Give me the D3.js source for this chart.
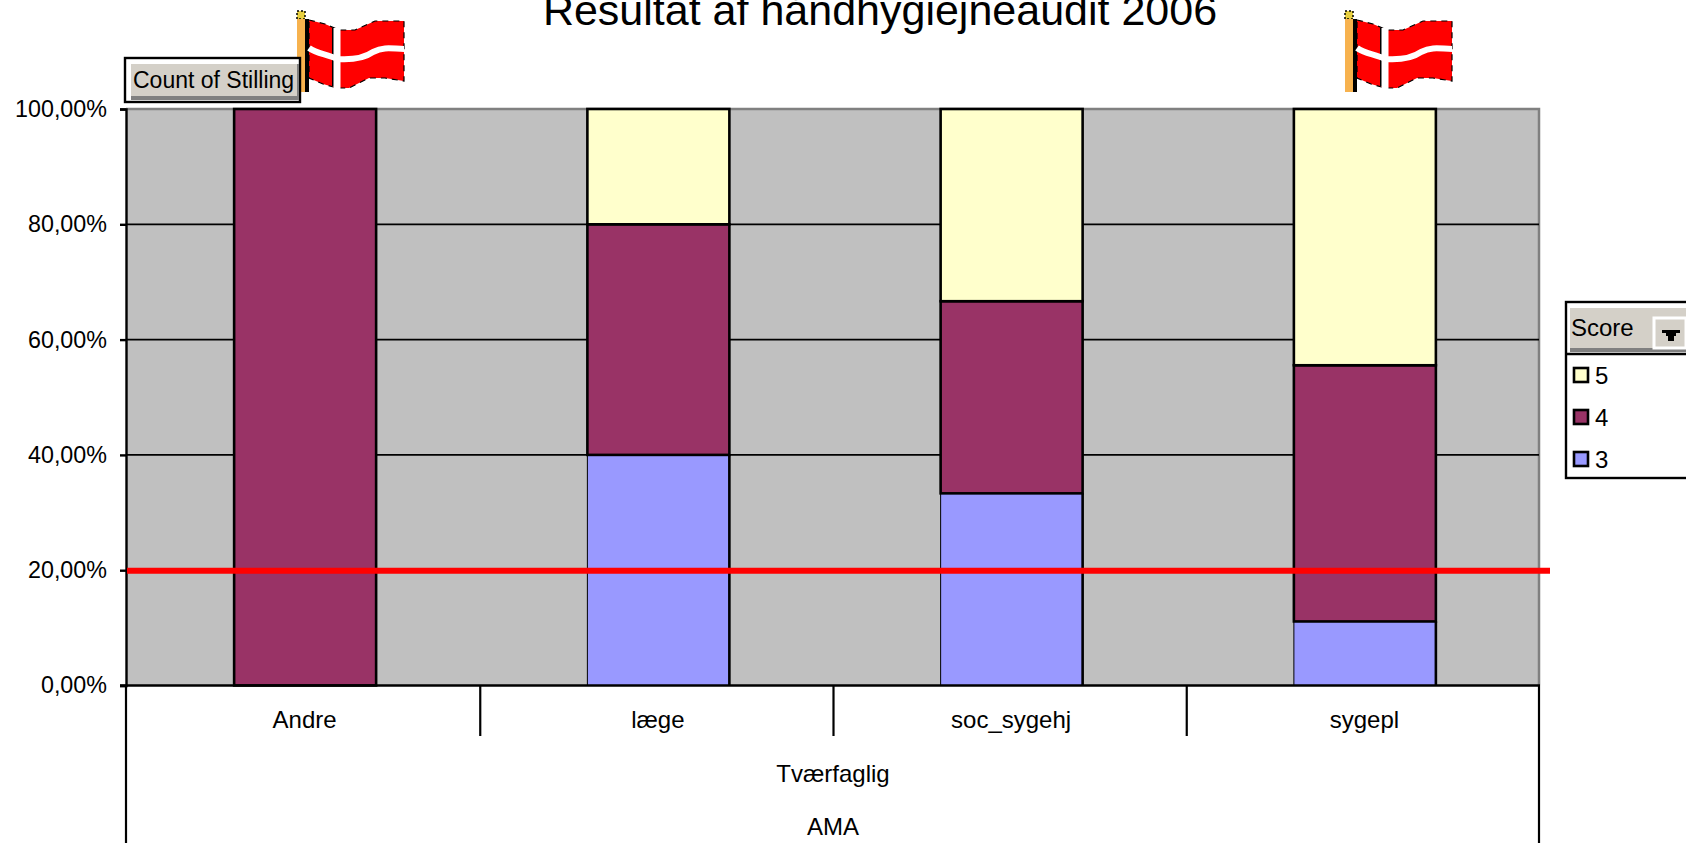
<!DOCTYPE html>
<html><head><meta charset="utf-8">
<script src="https://cdn.jsdelivr.net/npm/d3@7/dist/d3.min.js"></script>
<style>html,body{margin:0;padding:0;background:#fff;overflow:hidden}svg{display:block}text{font-family:"Liberation Sans",Arial,sans-serif;fill:#000}</style>
</head><body><svg id="c" width="1686" height="843"></svg>
<script>
const categories = ["Andre","læge","soc_sygehj","sygepl"];
const seriesKeys = ["3","4","5"];
const score3 = [0, 40, 33.33, 11.11];
const score4 = [100, 40, 33.33, 44.44];
const score5 = [0, 20, 33.34, 44.45];
const yTicks = [0,20,40,60,80,100];
const targetLine = 20;
const legendOrder = ["5","4","3"];
const colors = {"3":"#9999ff","4":"#993366","5":"#ffffcc"};
const values = {"3":score3,"4":score4,"5":score5};

const svg = d3.select("#c");
const L=126,R=1539,T=109,B=685.5;
const x = d3.scaleBand().domain(categories).range([127,1540]);
const barW = 142;
const y = d3.scaleLinear().domain([0,100]).range([B,T]);

svg.append("rect").attr("x",L).attr("y",T).attr("width",R-L).attr("height",B-T).attr("fill","#c0c0c0");
svg.append("path").attr("d",`M${L},${T}H${R}V${B}`).attr("fill","none").attr("stroke","#808080").attr("stroke-width",2.5);

svg.append("g").selectAll("line").data(yTicks.filter(d=>d>0&&d<100)).join("line")
 .attr("x1",L).attr("x2",R).attr("y1",d=>y(d)).attr("y2",d=>y(d)).attr("stroke","#000").attr("stroke-width",1.7);

const stack = d3.stack().keys(seriesKeys).value((d,k)=>values[k][categories.indexOf(d)])(categories);
stack.forEach(s=>{
  svg.append("g").selectAll("rect").data(s.filter(d=>d[1]-d[0]>0)).join("rect")
   .attr("x",d=>x(d.data)+x.bandwidth()/2-barW/2+1.5).attr("width",barW)
   .attr("y",d=>y(d[1])).attr("height",d=>y(d[0])-y(d[1]))
   .attr("fill",colors[s.key]).attr("stroke","#000").attr("stroke-width",s.key==="3"?1:2.6);
});
svg.append("g").selectAll("line").data(categories.filter((c,i)=>score3[i]>0)).join("line")
 .attr("x1",d=>x(d)+x.bandwidth()/2+barW/2+1.5).attr("x2",d=>x(d)+x.bandwidth()/2+barW/2+1.5)
 .attr("y1",d=>y(score3[categories.indexOf(d)])).attr("y2",B).attr("stroke","#000").attr("stroke-width",2.6);

// left axis
const yAxis = d3.axisLeft(y).tickValues(yTicks).tickSize(6).tickPadding(13)
  .tickFormat(d=>d3.format(".2f")(d).replace(".",",")+"%");
const gy = svg.append("g").attr("transform",`translate(${L},0)`).call(yAxis);
gy.selectAll("text").style("font-size","23.3px");
gy.selectAll("path,line").attr("stroke","#000").attr("stroke-width",2.4);

// lower multi-level axis
svg.append("line").attr("x1",L-6).attr("x2",R+1).attr("y1",B).attr("y2",B).attr("stroke","#000").attr("stroke-width",2.6);
svg.append("line").attr("x1",L).attr("x2",L).attr("y1",B).attr("y2",843).attr("stroke","#000").attr("stroke-width",2.2);
svg.append("line").attr("x1",R).attr("x2",R).attr("y1",B).attr("y2",843).attr("stroke","#000").attr("stroke-width",2.2);
svg.append("g").selectAll("line").data(categories.slice(1)).join("line")
 .attr("x1",d=>x(d)).attr("x2",d=>x(d)).attr("y1",B).attr("y2",736).attr("stroke","#000").attr("stroke-width",2.2);
svg.append("g").selectAll("text").data(categories).join("text")
 .attr("x",d=>x(d)+x.bandwidth()/2+1).attr("y",728).attr("text-anchor","middle").style("font-size","24px").text(d=>d);
svg.append("text").attr("x",833).attr("y",782).attr("text-anchor","middle").style("font-size","24px").text("Tværfaglig");
svg.append("text").attr("x",833).attr("y",835).attr("text-anchor","middle").style("font-size","24px").text("AMA");

// target line
svg.append("line").attr("x1",127).attr("x2",1550).attr("y1",y(targetLine)+0.5).attr("y2",y(targetLine)+0.5).attr("stroke","#ff0000").attr("stroke-width",6);

// title
svg.append("text").attr("x",880).attr("y",25).attr("text-anchor","middle").style("font-size","43px").text("Resultat af håndhygiejneaudit 2006");

// flags
function flag(fx){
  const g=svg.append("g").attr("transform",`translate(${fx},0)`);
  g.append("rect").attr("x",0).attr("y",11).attr("width",8).attr("height",8).attr("fill","#e8d040").attr("stroke","#000").attr("stroke-width",1.5).attr("stroke-dasharray","2 2");
  g.append("rect").attr("x",0).attr("y",19).attr("width",8).attr("height",73).attr("fill","#f7b24e");
  g.append("rect").attr("x",8).attr("y",19).attr("width",4).attr("height",73).attr("fill","#000");
  g.append("path").attr("d","M12,20L28,24L42,30L58,30L78,21L107,21V81L88,78L72,78L52,88L40,88L26,84L12,78Z").attr("fill","#ff0000").attr("stroke","#000").attr("stroke-width",1.2).attr("stroke-dasharray","6 5");
  g.append("path").attr("d","M36,28V86").attr("fill","none").attr("stroke","#000").attr("stroke-width",2);
  g.append("path").attr("d","M12,48C20,54 30,54 40,59C54,60 66,59 76,52C88,46 96,49 107,49").attr("fill","none").attr("stroke","#fff").attr("stroke-width",6);
  g.append("path").attr("d","M40,28V89").attr("fill","none").attr("stroke","#fff").attr("stroke-width",7);
}
flag(297); flag(1345);

// field button
function button(bx,by,w,h,label,size){
  svg.append("rect").attr("x",bx).attr("y",by).attr("width",w).attr("height",h).attr("fill","#fff").attr("stroke","#000").attr("stroke-width",2.4);
  svg.append("rect").attr("x",bx+6).attr("y",by+6).attr("width",w-7).attr("height",h-8).attr("fill","#808080");
  svg.append("rect").attr("x",bx+6).attr("y",by+6).attr("width",w-9).attr("height",h-12).attr("fill","#d4d0c8");
  svg.append("text").attr("x",bx+8).attr("y",by+h/2+8).style("font-size",size+"px").text(label);
}
button(125,58,175,44,"Count of Stilling",23);

// legend
const lx=1566, ly=302;
svg.append("rect").attr("x",lx).attr("y",ly).attr("width",140).attr("height",176).attr("fill","#fff").attr("stroke","#000").attr("stroke-width",2.4);
svg.append("rect").attr("x",lx+4).attr("y",ly+6).attr("width",140).attr("height",42).attr("fill","#d4d0c8");
svg.append("rect").attr("x",lx+4).attr("y",ly+46).attr("width",140).attr("height",4).attr("fill","#808080");
svg.append("line").attr("x1",lx).attr("x2",1686).attr("y1",ly+52).attr("y2",ly+52).attr("stroke","#000").attr("stroke-width",2.6);
svg.append("text").attr("x",lx+5).attr("y",ly+34).style("font-size","24px").text("Score");
svg.append("rect").attr("x",1654).attr("y",318).attr("width",32).attr("height",30).attr("fill","#d4d0c8").attr("stroke","#fff").attr("stroke-width",3);
svg.append("path").attr("d","M1662,330H1680V333H1676V336H1674V341H1668V336H1666V333H1662Z").attr("fill","#000");
const ly0 = d3.scalePoint().domain(legendOrder).range([375,459]);
const lg = svg.append("g").selectAll("g").data(legendOrder).join("g").attr("transform",d=>`translate(0,${ly0(d)})`);
lg.append("rect").attr("x",1574).attr("y",-7).attr("width",14).attr("height",14).attr("fill",d=>colors[d]).attr("stroke","#000").attr("stroke-width",2.6);
lg.append("text").attr("x",1595).attr("y",9).style("font-size","24px").text(d=>d);
</script></body></html>
